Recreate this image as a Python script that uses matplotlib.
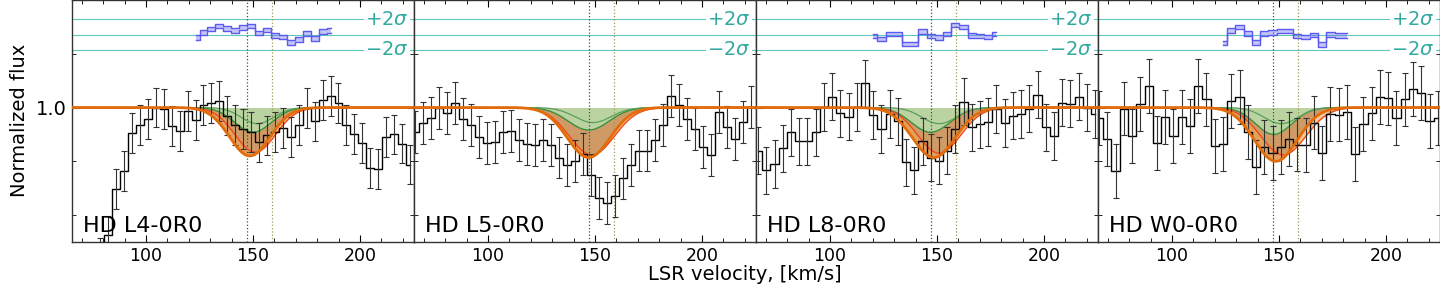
import numpy as np
import matplotlib
matplotlib.use("Agg")
import matplotlib.pyplot as plt
from matplotlib.ticker import MultipleLocator

# panel names
labels = ["HD L4-0R0", "HD L5-0R0", "HD L8-0R0", "HD W0-0R0"]

# velocity grid of each panel: first bin centre and bin width [km/s]
v_start = [74.9, 66.1, 66.4, 65.9]
v_step = [3.71, 3.73, 3.84, 3.86]

# normalized flux per bin
flux_l4 = [0.70, 0.72, 0.762, 0.848, 0.882, 0.952, 0.967, 0.979, 1.000, 0.997,
           0.966, 0.957, 0.993, 0.977, 1.004, 1.009, 1.012, 0.985, 0.967, 0.960,
           0.955, 0.935, 0.948, 0.955, 0.962, 0.945, 0.967, 0.999, 0.974, 1.014,
           1.022, 1.009, 0.968, 0.951, 0.934, 0.887, 0.885, 0.945, 0.950, 0.933,
           0.894]
flux_l5 = [0.955, 0.971, 0.980, 0.999, 0.990, 1.009, 0.978, 0.967, 0.945, 0.934,
           0.935, 0.955, 0.956, 0.940, 0.932, 0.931, 0.939, 0.930, 0.907, 0.893,
           0.900, 0.914, 0.874, 0.831, 0.822, 0.835, 0.868, 0.893, 0.920, 0.920,
           0.939, 0.967, 1.022, 1.004, 0.979, 0.960, 0.927, 0.911, 0.991, 0.964,
           0.942, 0.973, 1.001]
flux_l8 = [0.920, 0.883, 0.895, 0.924, 0.954, 0.937, 0.937, 0.954, 1.001, 1.020,
           0.989, 0.983, 1.001, 1.045, 0.986, 0.960, 0.988, 0.974, 0.898, 0.883,
           0.937, 0.907, 0.901, 0.920, 0.960, 1.011, 0.963, 0.969, 0.973, 0.997,
           0.971, 0.985, 0.988, 0.998, 1.024, 0.963, 0.947, 1.009, 1.007, 1.020,
           1.000, 0.988]
flux_w0 = [0.981, 0.941, 0.882, 0.998, 0.947, 1.006, 1.040, 0.934, 0.983, 0.947,
           0.982, 0.965, 1.040, 1.015, 0.928, 0.932, 1.012, 1.020, 0.954, 0.889,
           0.926, 0.916, 0.926, 0.941, 0.931, 0.930, 0.972, 0.916, 0.988, 0.987,
           0.991, 0.913, 0.969, 0.989, 1.019, 1.017, 0.981, 1.015, 1.034, 1.027,
           0.975, 0.981]
fluxes = [flux_l4, flux_l5, flux_l8, flux_w0]
flux_err = [0.037, 0.039, 0.044, 0.050]

# residuals in sigma units, first bin index of the fitted window
res_first = [13, None, 14, 15]
res_l4 = [-0.35, 0.3, 0.7, 1.1, 0.8, 0.5, 0.9, 1.1, 0.2, 0.6, -0.1, -0.3,
          -1.0, -0.65, 0.15, -0.5, 0.4, 0.55]
res_l8 = [-0.17, -0.6, 0.05, 0.05, -1.25, -1.25, 0.4, -0.17, -0.4, 0.05,
          1.26, 1.0, -0.1, -0.17, -0.3, 0.05]
res_w0 = [-1.1, 0.55, 1.0, 0.13, -1.05, 0.17, 0.26, 0.48, 0.48, -0.17, -0.3,
          -0.04, -1.26, 0.04, -0.09, -0.09]
residuals = [res_l4, None, res_l8, res_w0]

# fitted profiles: (centre, depth, width) of each drawn curve
comp_a = [(152.0, 0.030, 7.5), (149.0, 0.028, 8.5), (151.0, 0.030, 8.0), (151.0, 0.030, 8.0)]
comp_b = [(150.0, 0.046, 8.5), (147.0, 0.042, 9.5), (147.0, 0.046, 9.0), (147.5, 0.050, 8.5)]
total = [(148.5, 0.090, 9.5), (147.0, 0.093, 10.0), (148.5, 0.093, 10.0), (148.5, 0.100, 10.0)]
total_alt = [(151.0, 0.083, 9.5), (148.5, 0.088, 10.5), (151.0, 0.085, 10.0), (152.0, 0.088, 10.5)]

v_comp = [147.0, 159.0]
res_zero, res_sigma = 1.1357, 0.0143

c_orange = "#e36c0a"
c_brown = "#c8884b"
c_green_fill = "#b9d7a5"
c_green = "#3c8c3c"
c_teal = "#5ec8bb"
c_blue = "#5b5bf0"

fig, axes = plt.subplots(1, 4, figsize=(14.4, 2.88), dpi=100, sharey=True)
fig.subplots_adjust(left=0.05, right=1.0, top=1.0, bottom=0.16, wspace=0)

vv = np.linspace(55, 235, 900)


def profile(p):
    c, d, s = p
    return 1 - d * np.exp(-0.5 * ((vv - c) / s) ** 2)


for i, ax in enumerate(axes):
    flux = np.array(fluxes[i])
    v = v_start[i] + v_step[i] * np.arange(len(flux))

    tot = profile(total[i])
    alt = profile(total_alt[i])
    ga = profile(comp_a[i])
    gb = profile(comp_b[i])

    ax.fill_between(vv, 1, tot, color=c_brown, alpha=0.85, lw=0, zorder=1)
    ax.fill_between(vv, tot, alt, color="#f2a65a", alpha=0.6, lw=0, zorder=1)
    ax.fill_between(vv, 1, gb, color=c_green_fill, alpha=0.95, lw=0, zorder=2)
    ax.plot(vv, gb, color=c_green, lw=1.0, zorder=3)
    ax.plot(vv, ga, color="#5aa05a", lw=0.9, zorder=3)
    ax.plot(vv, alt, color="#f04a1a", lw=1.0, zorder=4)

    ax.step(v, flux, where="mid", color="black", lw=1.0, zorder=5)
    ax.errorbar(v, flux, yerr=flux_err[i], fmt="none", ecolor="#333333",
                elinewidth=0.8, capsize=2, capthick=0.8, zorder=5)
    ax.plot(vv, tot, color=c_orange, lw=2.0, zorder=6)

    ax.axvline(v_comp[0], color="#245c50", ls=":", lw=0.9, zorder=3)
    ax.axvline(v_comp[1], color="#a09a50", ls=":", lw=0.9, zorder=3)

    for k in (-2, 0, 2):
        ax.axhline(res_zero + k * res_sigma, color=c_teal, lw=0.8, zorder=2)
    ax.text(0.985, res_zero + 2 * res_sigma, r"$+2\sigma$", color="#33aa9f",
            fontsize=14, ha="right", va="center",
            transform=ax.get_yaxis_transform(),
            bbox=dict(facecolor="white", edgecolor="none", pad=1), zorder=7)
    ax.text(0.985, res_zero - 2 * res_sigma, r"$-2\sigma$", color="#33aa9f",
            fontsize=14, ha="right", va="center",
            transform=ax.get_yaxis_transform(),
            bbox=dict(facecolor="white", edgecolor="none", pad=1), zorder=7)

    if residuals[i] is not None:
        r = np.array(residuals[i])
        vr = v[res_first[i]:res_first[i] + len(r)]
        y = res_zero + r * res_sigma
        ax.fill_between(vr, y - 0.3 * res_sigma, y + 0.3 * res_sigma, step="mid",
                        color=c_blue, alpha=0.35, lw=0, zorder=4)
        ax.step(vr, y - 0.3 * res_sigma, where="mid", color=c_blue, lw=1.0, zorder=4)
        ax.step(vr, y + 0.3 * res_sigma, where="mid", color=c_blue, lw=1.0, zorder=4)

    ax.text(0.032, 0.04, labels[i], transform=ax.transAxes, fontsize=16,
            ha="left", va="baseline", zorder=8)

    ax.set_xlim(65.4, 225.2)
    ax.set_ylim(0.75, 1.2)
    ax.xaxis.set_major_locator(MultipleLocator(50))
    ax.xaxis.set_minor_locator(MultipleLocator(10))
    ax.yaxis.set_major_locator(MultipleLocator(0.5))
    ax.yaxis.set_minor_locator(MultipleLocator(0.1))
    ax.yaxis.set_major_formatter(matplotlib.ticker.FormatStrFormatter("%.1f"))
    ax.tick_params(which="both", direction="in", top=True, right=True)
    ax.tick_params(axis="x", labelsize=12.5)
    ax.tick_params(axis="y", labelsize=14)
    ax.tick_params(which="major", length=5)
    ax.tick_params(which="minor", length=3)
    for sp in ax.spines.values():
        sp.set_color("#333333")
        sp.set_linewidth(1.0)

fig.text(745 / 1440, 1 - 275 / 288, "LSR velocity, [km/s]", ha="center",
         va="center", fontsize=14)
fig.text(20 / 1440, 0.583, "Normalized flux", ha="center", va="center",
         rotation=90, fontsize=14)

fig.savefig("out.png", dpi=100)
